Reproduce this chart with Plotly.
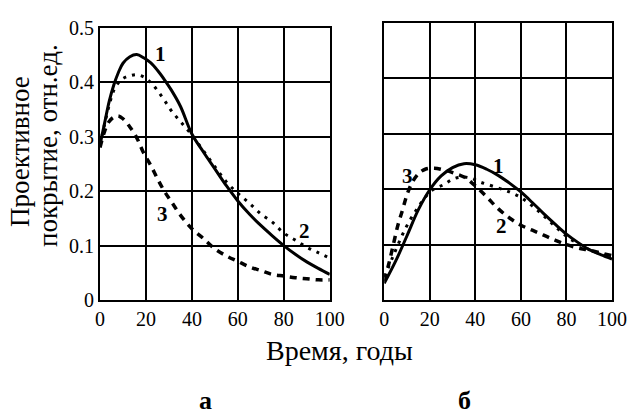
import plotly.graph_objects as go

# ---- Panel "а" ----
a_x = [0, 2, 4, 6, 8, 10, 13, 16, 19, 22, 25, 28, 31, 35, 40, 45, 50, 55, 60, 65, 70, 75, 80, 85, 90, 95, 100]
a_curve1 = [0.285, 0.325, 0.365, 0.395, 0.418, 0.435, 0.447, 0.451, 0.445, 0.436, 0.422, 0.405, 0.386, 0.356,
            0.305, 0.272, 0.241, 0.21, 0.182, 0.158, 0.137, 0.118, 0.1, 0.084, 0.07, 0.058, 0.047]
a_curve2 = [0.285, 0.323, 0.358, 0.385, 0.399, 0.407, 0.412, 0.414, 0.41, 0.4, 0.385, 0.367, 0.348, 0.328,
            0.303, 0.274, 0.245, 0.217, 0.196, 0.178, 0.158, 0.143, 0.123, 0.11, 0.097, 0.087, 0.077]
a_curve3 = [0.28, 0.31, 0.328, 0.336, 0.338, 0.333, 0.318, 0.298, 0.27, 0.248, 0.223, 0.2, 0.181, 0.156,
            0.131, 0.113, 0.094, 0.081, 0.071, 0.061, 0.054, 0.047, 0.044, 0.041, 0.039, 0.037, 0.037]

# ---- Panel "б" ----
b_x1 = [0, 5, 10, 15, 20, 25, 30, 35, 40, 45, 50, 55, 60, 65, 70, 75, 80, 85, 90, 95, 100]
b_curve1 = [0.03, 0.07, 0.116, 0.163, 0.199, 0.224, 0.239, 0.246, 0.244, 0.236, 0.225, 0.211, 0.195, 0.176,
            0.156, 0.137, 0.119, 0.104, 0.091, 0.082, 0.074]
b_x2 = [0, 4, 8, 11, 14, 17, 21, 26, 30, 34, 38, 42, 48, 55, 60, 65, 70, 75, 80, 85, 90, 95, 100]
b_curve2 = [0.042, 0.08, 0.118, 0.142, 0.162, 0.18, 0.198, 0.208, 0.218, 0.222, 0.22, 0.213, 0.205, 0.195,
            0.185, 0.17, 0.152, 0.133, 0.115, 0.102, 0.091, 0.083, 0.076]
b_x3 = [0, 2, 4, 6, 8, 10, 12, 15, 18, 22, 26, 30, 35, 40, 45, 50, 55, 60, 65, 70, 75, 80, 85, 90, 95, 100]
b_curve3 = [0.035, 0.065, 0.1, 0.135, 0.162, 0.19, 0.21, 0.228, 0.236, 0.238, 0.235, 0.23, 0.222, 0.206,
            0.186, 0.165, 0.148, 0.135, 0.126, 0.117, 0.108, 0.1, 0.094, 0.09, 0.085, 0.08]

x_ticks = [0, 20, 40, 60, 80, 100]
y_ticks = [0, 0.1, 0.2, 0.3, 0.4, 0.5]
y_tick_text = ["0", "0.1", "0.2", "0.3", "0.4", "0.5"]

# curve labels: (text, x, y)
a_labels = [("1", 26.5, 0.452), ("2", 89, 0.126), ("3", 27, 0.158)]
b_labels = [("1", 50, 0.242), ("2", 51.5, 0.133), ("3", 10, 0.224)]

FONT = "Liberation Serif, Times New Roman, Times, DejaVu Serif, serif"
BLACK = "black"

fig = go.Figure()

def add_curves(xs_list, ys_list, xa, ya):
    styles = [dict(dash="solid", width=3),
              dict(dash="3px,6px", width=3),
              dict(dash="7px,6px", width=3.5)]
    for xs, ys, st in zip(xs_list, ys_list, styles):
        fig.add_trace(go.Scatter(x=xs, y=ys, mode="lines", xaxis=xa, yaxis=ya,
                                 line=dict(color=BLACK, width=st["width"], dash=st["dash"], shape="spline"),
                                 showlegend=False, hoverinfo="skip"))

add_curves([a_x, a_x, a_x], [a_curve1, a_curve2, a_curve3], "x", "y")
add_curves([b_x1, b_x2, b_x3], [b_curve1, b_curve2, b_curve3], "x2", "y2")

annotations = []
for t, x, y in a_labels:
    annotations.append(dict(text=f"<b>{t}</b>", x=x, y=y, xref="x", yref="y", showarrow=False,
                            xanchor="center", yanchor="middle",
                            font=dict(family=FONT, size=21, color=BLACK)))
for t, x, y in b_labels:
    annotations.append(dict(text=f"<b>{t}</b>", x=x, y=y, xref="x2", yref="y2", showarrow=False,
                            xanchor="center", yanchor="middle",
                            font=dict(family=FONT, size=21, color=BLACK)))

W, H = 639, 414
ML, MR, MT, MB = 100, 22, 15, 114
PW = W - ML - MR
PH = H - MT - MB

def px_x(p):
    return (p - ML) / PW

def px_y(p):
    return (H - MB - p) / PH

def paper_text(text, px, py, size=26, angle=0):
    return dict(text=text, x=px_x(px), y=px_y(py), xref="paper", yref="paper",
                xanchor="center", yanchor="middle", showarrow=False, textangle=angle,
                font=dict(family=FONT, size=size, color=BLACK))

# axis titles / panel letters
annotations.append(paper_text("Проективное", 20, 147, size=27, angle=-90))
annotations.append(paper_text("покрытие, отн.ед.", 48, 141, size=27, angle=-90))
annotations.append(paper_text("Время, годы", 342, 352, size=28))
annotations.append(paper_text("<b>а</b>", 207, 403))
annotations.append(paper_text("<b>б</b>", 468, 403))

axis_common = dict(showline=True, linecolor=BLACK, linewidth=2, mirror=True,
                   showgrid=True, gridcolor=BLACK, gridwidth=1.5, zeroline=False,
                   tickfont=dict(family=FONT, size=20, color=BLACK), fixedrange=True)

fig.update_layout(
    width=W, height=H,
    margin=dict(l=ML, r=MR, t=MT, b=MB),
    paper_bgcolor="white", plot_bgcolor="white",
    font=dict(family=FONT, color=BLACK),
    xaxis=dict(domain=[0, px_x(332)], range=[0, 100], tickvals=x_ticks, anchor="y",
               ticks="", **axis_common),
    yaxis=dict(domain=[0, px_y(20)], range=[0, 0.5], tickvals=y_ticks, ticktext=y_tick_text, anchor="x",
               ticks="", **axis_common),
    xaxis2=dict(domain=[px_x(387), 1], range=[0, 100], tickvals=x_ticks, anchor="y2",
                ticks="", **axis_common),
    yaxis2=dict(domain=[0, 1], range=[0, 0.5], tickvals=y_ticks, anchor="x2",
                showticklabels=False, ticks="", **axis_common),
    annotations=annotations,
)

fig.write_html("out.html", config={"displayModeBar": False},
               post_script="document.body.style.margin='0';")
